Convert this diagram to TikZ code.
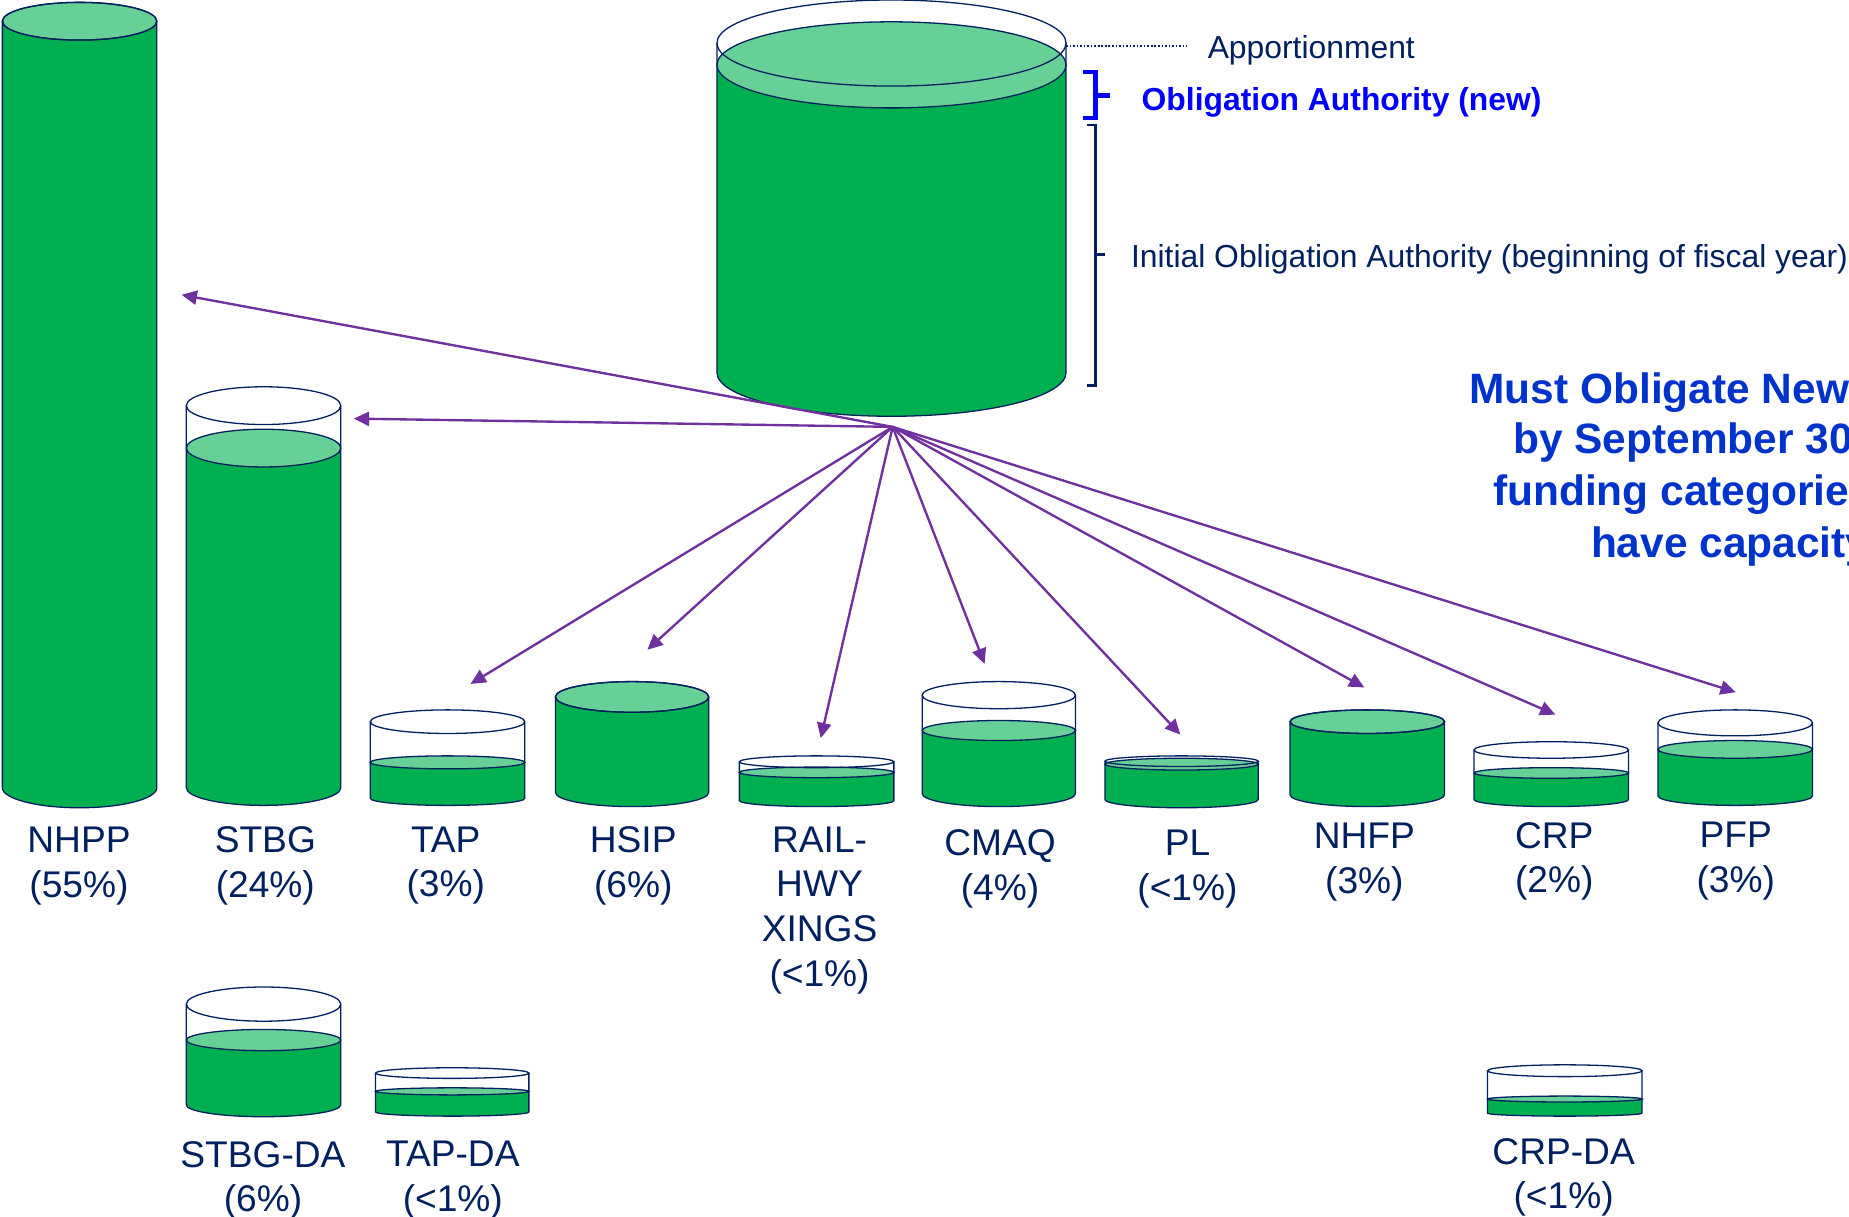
\documentclass[tikz,border=0pt]{standalone}
\usepackage{fontspec}
\setmainfont{Liberation Sans}
\usepackage{tikz}
\usetikzlibrary{arrows.meta}

\definecolor{tankgreen}{RGB}{0,176,80}
\definecolor{levelgreen}{RGB}{102,208,150}
\definecolor{navy}{RGB}{0,32,96}
\definecolor{feedpurple}{RGB}{112,48,160}
\definecolor{oablue}{RGB}{0,0,255}
\definecolor{noteblue}{RGB}{0,51,204}

% #1 centre x, #2 half width, #3/#4 rim y and radius, #5/#6 level y and radius, #7/#8 bottom y and radius
\newcommand{\tank}[8]{%
	\fill[tankgreen] (#1-#2,#5) -- (#1-#2,#7) arc[start angle=180,end angle=0,x radius=#2,y radius=#8] -- (#1+#2,#5) -- cycle;
	\draw[tankline,fill=levelgreen] (#1,#5) ellipse[x radius=#2,y radius=#6];
	\draw[tankline] (#1-#2,#3) -- (#1-#2,#7) arc[start angle=180,end angle=0,x radius=#2,y radius=#8] -- (#1+#2,#3);
	\draw[tankline] (#1,#3) ellipse[x radius=#2,y radius=#4];
}

\begin{document}
\begin{tikzpicture}[x=1pt,y=-1pt,
	tankline/.style={draw=navy,line width=1.1pt},
	feed/.style={-{Triangle[length=13pt,width=12pt]},line width=2pt,feedpurple},
	fund/.style={text=navy,align=center,inner sep=0pt,font=\fontsize{31.5}{38}\selectfont},
	note/.style={anchor=base west,inner sep=0pt,text=navy,font=\fontsize{27}{32}\selectfont},
	must/.style={anchor=base west,inner sep=0pt,text=noteblue,font=\bfseries\fontsize{36}{44}\selectfont}]
	\useasboundingbox (0,0) rectangle (1568,1032);
	\clip (0,0) rectangle (1568,1032);
	
	% apportionment
	\tank{756}{148}{36.5}{36.5}{55}{36.5}{316}{37}
	
	% funding categories
	\tank{67.5}{65.5}{18}{16}{18}{16}{668}{17}
	\tank{223.5}{65.5}{344}{16}{380}{16}{668}{15}
	\tank{379.5}{65.5}{612}{10}{646.5}{5.5}{677}{6}
	\tank{536}{65}{591}{13}{591}{13}{672}{12}
	\tank{692.5}{65.5}{646}{5}{655}{4.5}{679}{5}
	\tank{847}{65}{589.5}{11.5}{619.5}{8.5}{673}{11}
	\tank{1002}{65}{645.5}{4.5}{648}{5}{678}{7}
	\tank{1159.5}{65.5}{612}{10}{612}{10}{674}{10}
	\tank{1315.5}{65.5}{636}{7}{655.5}{4.5}{678}{6}
	\tank{1471.5}{65.5}{613}{11}{635.5}{7.5}{675}{8}
	\tank{223.5}{65.5}{851.5}{14.5}{882}{9}{937}{10}
	\tank{383.5}{65}{910}{4.5}{925.5}{3}{943}{3.5}
	\tank{1327}{65.5}{908}{5}{932}{2.5}{944}{2.5}
	
	\node[fund] (nhpp) at (67,734.5) {NHPP\\(55\%)};
	\node[fund] (stbg) at (225,734.5) {STBG\\(24\%)};
	\node[fund] (tap) at (378,734) {TAP\\(3\%)};
	\node[fund] (hsip) at (537,734) {HSIP\\(6\%)};
	\node[fund] (rail) at (695,772) {RAIL-\\HWY\\XINGS\\(<1\%)};
	\node[fund] (cmaq) at (848,737) {CMAQ\\(4\%)};
	\node[fund] (pl) at (1007,737) {PL\\(<1\%)};
	\node[fund] (nhfp) at (1157,731) {NHFP\\(3\%)};
	\node[fund] (crp) at (1318,730.5) {CRP\\(2\%)};
	\node[fund] (pfp) at (1472,730.5) {PFP\\(3\%)};
	\node[fund] (stbgda) at (223,1001) {STBG-DA\\(6\%)};
	\node[fund] (tapda) at (384,1001) {TAP-DA\\(<1\%)};
	\node[fund] (crpda) at (1326,998.5) {CRP-DA\\(<1\%)};
	
	% labels on the right
	\coordinate (rim-e) at (904,39);
	\coordinate (lead-end) at (1007,39);
	\draw[navy,line width=1.4pt,dash pattern=on 1.4pt off 1.6pt] (rim-e) -- (lead-end);
	\node[note] (apport) at (1024,50) {Apportionment};
	\draw[oablue,line width=4pt] (918,61) -- (929,61) -- (929,100) -- (918,100) (929,81) -- (941,81);
	\node[note,text=oablue,font=\bfseries\fontsize{27}{32}\selectfont] (oanew) at (968,94) {Obligation Authority (new)};
	\draw[navy,line width=2.2pt] (922,106) -- (929,106) -- (929,327) -- (922,327) (929,216) -- (937,216);
	\node[note] (oainit) at (959,227) {Initial Obligation Authority (beginning of fiscal year)};
	
	\node[must] (must1) at (1246,342) {Must Obligate New};
	\node[must] (must2) at (1283,385) {by September 30};
	\node[must] (must3) at (1266,429) {funding categorie};
	\node[must] (must4) at (1349,473) {have capacity};
	
	% distribution
	\coordinate (hub) at (757,362);
	\coordinate (to-nhpp) at (154,250);
	\coordinate (to-stbg) at (300,355);
	\coordinate (to-tap) at (399,580);
	\coordinate (to-hsip) at (549,551);
	\coordinate (to-rail) at (696,626);
	\coordinate (to-cmaq) at (835,563);
	\coordinate (to-pl) at (1001,623);
	\coordinate (to-nhfp) at (1157,583);
	\coordinate (to-crp) at (1319,606);
	\coordinate (to-pfp) at (1472,587);
	\draw[feed] (hub) -- (to-nhpp);
	\draw[feed] (hub) -- (to-stbg);
	\draw[feed] (hub) -- (to-tap);
	\draw[feed] (hub) -- (to-hsip);
	\draw[feed] (hub) -- (to-rail);
	\draw[feed] (hub) -- (to-cmaq);
	\draw[feed] (hub) -- (to-pl);
	\draw[feed] (hub) -- (to-nhfp);
	\draw[feed] (hub) -- (to-crp);
	\draw[feed] (hub) -- (to-pfp);
\end{tikzpicture}
\end{document}
